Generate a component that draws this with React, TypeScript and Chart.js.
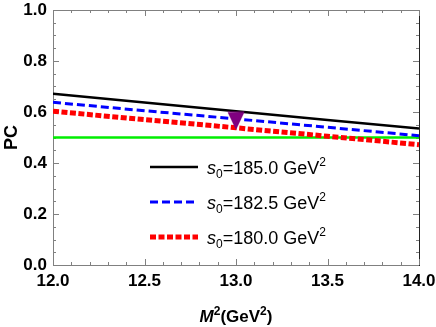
import React, { useEffect, useRef } from "react";
import { Chart, registerables } from "chart.js";

Chart.register(...registerables);

const xValues = [12.0, 12.5, 13.0, 13.5, 14.0];
const s185 = [0.672, 0.637, 0.603, 0.569, 0.535];
const s1825 = [0.638, 0.605, 0.573, 0.540, 0.507];
const s180 = [0.603, 0.570, 0.538, 0.505, 0.472];
const threshold = [0.5, 0.5, 0.5, 0.5, 0.5];
const markerX = [13.0];
const markerY = [0.565];
const legendLabels = ["185.0", "182.5", "180.0"];
const xTicks = [12.0, 12.5, 13.0, 13.5, 14.0];
const yTicks = [0.0, 0.2, 0.4, 0.6, 0.8, 1.0];

function makeTriangle(): HTMLCanvasElement {
  const c = document.createElement("canvas");
  c.width = 18;
  c.height = 19;
  const g = c.getContext("2d")!;
  g.fillStyle = "#800080";
  g.beginPath();
  g.moveTo(0.5, 0.5);
  g.lineTo(17.5, 0.5);
  g.lineTo(9, 18.5);
  g.closePath();
  g.fill();
  return c;
}

const blueDash = [8, 4];
const redDash = [6, 2.5];

const framePlugin = {
  id: "frame",
  beforeDatasetsDraw(chart: any) {
    const { ctx, chartArea: a, scales } = chart;
    const xs = scales.x;
    const ys = scales.y;
    ctx.save();
    ctx.lineWidth = 1;
    ctx.strokeStyle = "#808080";
    ctx.beginPath();
    ctx.moveTo(a.left + 0.5, a.top + 0.5);
    ctx.lineTo(a.left + 0.5, a.bottom + 0.5);
    ctx.lineTo(a.right, a.bottom + 0.5);
    ctx.moveTo(a.left, a.top + 0.5);
    ctx.lineTo(a.right, a.top + 0.5);
    ctx.stroke();
    ctx.strokeStyle = "#222";
    ctx.beginPath();
    ctx.moveTo(a.right + 0.5, a.top);
    ctx.lineTo(a.right + 0.5, a.bottom + 1);
    ctx.stroke();
    ctx.strokeStyle = "#808080";
    ctx.beginPath();
    for (let i = 0; i <= 20; i++) {
      const v = 12 + i * 0.1;
      const px = Math.round(xs.getPixelForValue(v)) + 0.5;
      const len = i % 5 === 0 ? 6 : 3;
      ctx.moveTo(px, a.bottom);
      ctx.lineTo(px, a.bottom - len);
      ctx.moveTo(px, a.top);
      ctx.lineTo(px, a.top + len);
    }
    for (let i = 0; i <= 20; i++) {
      const v = i * 0.05;
      const py = Math.round(ys.getPixelForValue(v)) + 0.5;
      const len = i % 4 === 0 ? 6 : 3;
      ctx.moveTo(a.left, py);
      ctx.lineTo(a.left + len, py);
      ctx.moveTo(a.right, py);
      ctx.lineTo(a.right - len, py);
    }
    ctx.stroke();
    ctx.restore();
  },
  afterDraw(chart: any) {
    const { ctx, chartArea: a } = chart;
    ctx.save();
    ctx.fillStyle = "#000";
    ctx.textBaseline = "alphabetic";
    const big = "bold 17px 'Liberation Sans', Arial, sans-serif";
    const bigIt = "italic bold 17px 'Liberation Sans', Arial, sans-serif";
    const small = "bold 12px 'Liberation Sans', Arial, sans-serif";
    const parts: [string, string, number][] = [
      ["M", bigIt, 0],
      ["2", small, -7],
      ["(GeV", big, 0],
      ["2", small, -7],
      [")", big, 0],
    ];
    let total = 0;
    for (const [t, f] of parts) {
      ctx.font = f;
      total += ctx.measureText(t).width;
    }
    let x = (a.left + a.right) / 2 - total / 2;
    const base = 322;
    for (const [t, f, dy] of parts) {
      ctx.font = f;
      ctx.fillText(t, x, base + dy);
      x += ctx.measureText(t).width;
    }
    const styles = [
      { color: "#000", width: 2.5, dash: [] as number[] },
      { color: "#0000ff", width: 3, dash: blueDash },
      { color: "#ff0000", width: 5, dash: redDash },
    ];
    const rows = [167, 202, 237];
    const norm = "18px 'Liberation Sans', Arial, sans-serif";
    const normIt = "italic 18px 'Liberation Sans', Arial, sans-serif";
    const sm = "12px 'Liberation Sans', Arial, sans-serif";
    for (let i = 0; i < 3; i++) {
      const y = rows[i];
      const st = styles[i];
      ctx.strokeStyle = st.color;
      ctx.lineWidth = st.width;
      ctx.setLineDash(st.dash);
      ctx.beginPath();
      ctx.moveTo(150, y);
      ctx.lineTo(198, y);
      ctx.stroke();
      ctx.setLineDash([]);
      const lp: [string, string, number][] = [
        ["s", normIt, 0],
        ["0", sm, 4],
        ["=" + legendLabels[i] + " GeV", norm, 0],
        ["2", sm, -8],
      ];
      let tx = 207;
      const tb = y + 7;
      for (const [t, f, dy] of lp) {
        ctx.font = f;
        ctx.fillText(t, tx, tb + dy);
        tx += ctx.measureText(t).width;
      }
    }
    ctx.restore();
  },
};

export default function App() {
  const ref = useRef<HTMLCanvasElement>(null);
  useEffect(() => {
    const tri = makeTriangle();
    const pts = (ys: number[]) => xValues.map((x, i) => ({ x, y: ys[i] }));
    const chart = new Chart(ref.current!, {
      type: "line",
      data: {
        datasets: [
          {
            data: markerX.map((x, i) => ({ x, y: markerY[i] })),
            showLine: false,
            pointStyle: tri as any,
            pointRadius: 9,
            backgroundColor: "#800080",
            borderColor: "#800080",
          },
          {
            data: pts(s185),
            borderColor: "#000",
            borderWidth: 2.5,
            pointRadius: 0,
          },
          {
            data: pts(s1825),
            borderColor: "#0000ff",
            borderWidth: 3,
            borderDash: blueDash,
            pointRadius: 0,
          },
          {
            data: pts(s180),
            borderColor: "#ff0000",
            borderWidth: 5,
            borderDash: redDash,
            pointRadius: 0,
          },
          {
            data: pts(threshold),
            borderColor: "#00ee00",
            borderWidth: 2.5,
            pointRadius: 0,
          },
        ],
      },
      options: {
        animation: false,
        responsive: false,
        layout: { padding: { top: 8, right: 17, left: 0, bottom: 0 } },
        plugins: { legend: { display: false }, tooltip: { enabled: false } },
        scales: {
          x: {
            type: "linear",
            min: 12,
            max: 14,
            afterBuildTicks: (s: any) => {
              s.ticks = xTicks.map((v) => ({ value: v }));
            },
            afterFit: (s: any) => {
              s.height = 62;
              s.paddingLeft = 0;
              s.paddingRight = 0;
            },
            ticks: {
              callback: (v: any) => Number(v).toFixed(1),
              font: { family: "'Liberation Sans', Arial, sans-serif", size: 17, weight: "bold" },
              color: "#000",
              padding: 6,
              maxRotation: 0,
              autoSkip: false,
            },
            grid: { display: false, drawTicks: false },
            border: { display: false },
          },
          y: {
            min: 0,
            max: 1,
            afterBuildTicks: (s: any) => {
              s.ticks = yTicks.map((v) => ({ value: v }));
            },
            afterFit: (s: any) => {
              s.width = 53;
              s.paddingTop = 0;
              s.paddingBottom = 0;
            },
            ticks: {
              callback: (v: any) => Number(v).toFixed(1),
              font: { family: "'Liberation Sans', Arial, sans-serif", size: 17, weight: "bold" },
              color: "#000",
              padding: 6,
              autoSkip: false,
            },
            title: {
              display: true,
              text: "PC",
              color: "#000",
              font: { family: "'Liberation Sans', Arial, sans-serif", size: 18, weight: "bold" },
              padding: { top: 1, bottom: 0 },
            },
            grid: { display: false, drawTicks: false },
            border: { display: false },
          },
        },
      },
      plugins: [framePlugin],
    });
    return () => chart.destroy();
  }, []);
  return (
    <div style={{ position: "absolute", left: 0, top: 0, width: 436, height: 327, background: "#fff" }}>
      <canvas ref={ref} width={436} height={327} style={{ width: 436, height: 327 }} />
    </div>
  );
}
